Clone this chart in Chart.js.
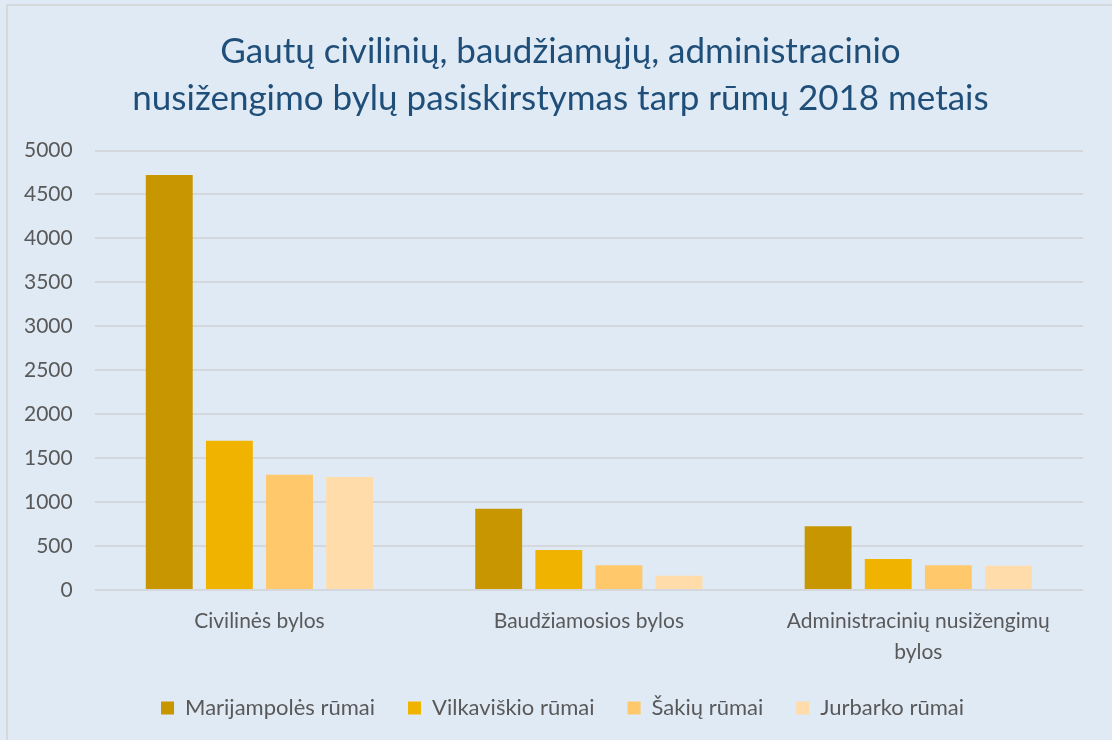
<!DOCTYPE html>
<html>
<head>
<meta charset="utf-8">
<script src="https://cdn.jsdelivr.net/npm/chart.js@4/dist/chart.umd.min.js"></script>
<style>
  html, body { margin: 0; padding: 0; background: #dfeaf5; }
  .frame {
    position: absolute; left: 6px; top: 4px; width: 1106px; height: 736px;
    border-top: 2px solid #d6d9dc; border-left: 2px solid #d6d9dc;
    box-sizing: border-box;
  }
  #wrap { position: absolute; left: 0; top: 0; width: 1112px; height: 740px; }
</style>
</head>
<body>
<div class="frame"></div>
<div id="wrap"><canvas id="chart"></canvas></div>
<script>
const categories = ['Civilinės bylos', 'Baudžiamosios bylos', ['Administracinių nusižengimų', 'bylos']];
const seriesNames = ['Marijampolės rūmai', 'Vilkaviškio rūmai', 'Šakių rūmai', 'Jurbarko rūmai'];
const marijampole = [4720, 926, 726];
const vilkaviskis = [1700, 457, 355];
const sakiai = [1312, 283, 283];
const jurbarkas = [1285, 162, 276];
const colors = ['#c89600', '#f0b400', '#ffc86a', '#ffdcaa'];

const font = "Lato, 'Open Sans', sans-serif";

const allSeries = [marijampole, vilkaviskis, sakiai, jurbarkas];

// title and legend get centred on the whole box, not the plot, so nudge them a bit
const nudgeBlocks = {
  id: 'nudgeBlocks',
  afterLayout(chart) {
    if (chart.titleBlock) chart.titleBlock.right += 36;
    if (chart.legend) {
      chart.legend.right += 40;
      chart.legend.top -= 11;
      chart.legend.bottom -= 11;
    }
  }
};

new Chart(document.getElementById('chart'), {
  type: 'bar',
  data: {
    labels: categories,
    datasets: allSeries.map((vals, i) => ({
      label: seriesNames[i],
      data: vals,
      backgroundColor: colors[i],
      borderWidth: 0,
      categoryPercentage: 0.73,
      barPercentage: 0.78
    }))
  },
  plugins: [nudgeBlocks],
  options: {
    responsive: true,
    maintainAspectRatio: false,
    animation: false,
    layout: { padding: { left: 2, right: 29, top: 22, bottom: 0 } },
    plugins: {
      title: {
        display: true,
        text: ['Gautų civilinių, baudžiamųjų, administracinio', 'nusižengimo bylų pasiskirstymas tarp rūmų 2018 metais'],
        color: '#1f4e79',
        font: { family: font, size: 35, weight: 'normal', lineHeight: 1.35 },
        padding: { top: 6, bottom: 28 }
      },
      legend: {
        position: 'bottom',
        labels: {
          color: '#595959',
          font: { family: font, size: 22 },
          boxWidth: 13,
          boxHeight: 13,
          padding: 33
        }
      },
      tooltip: { enabled: false }
    },
    scales: {
      x: {
        grid: { display: false },
        border: { display: false },
        ticks: { color: '#595959', font: { family: font, size: 21, lineHeight: 1.45 }, padding: 8, maxRotation: 0 }
      },
      y: {
        min: 0,
        max: 5000,
        ticks: {
          stepSize: 500, color: '#595959', font: { family: font, size: 21 }, padding: 22,
          callback: v => String(v)
        },
        grid: { color: '#d4d8dc', lineWidth: 2, drawTicks: false },
        border: { display: false }
      }
    }
  }
});
</script>
</body>
</html>
